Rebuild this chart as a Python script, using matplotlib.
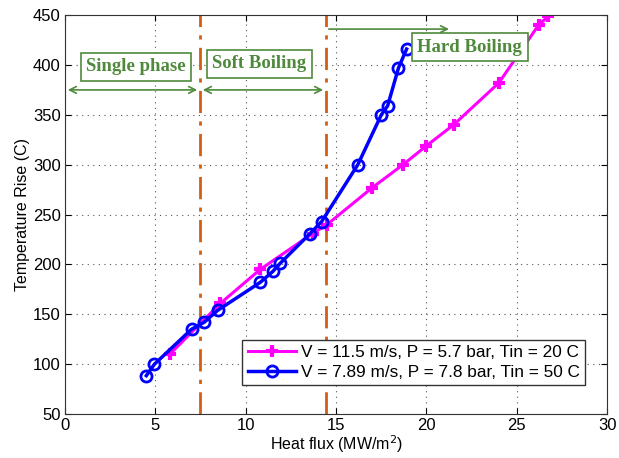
import matplotlib.pyplot as plt
import numpy as np

# series 1: V = 11.5 m/s
flux_a = [5.8, 8.6, 10.8, 13.7, 14.5, 17.0, 18.7, 20.0, 21.5, 24.0, 26.2, 26.75]
temp_a = [110, 161, 195, 231, 240, 277, 300, 319, 340, 382, 440, 449]

# series 2: V = 7.89 m/s
flux_b = [4.5, 4.95, 7.0, 7.7, 8.45, 10.8, 11.5, 11.9, 13.56, 14.2, 16.2, 17.5, 17.85, 18.45, 18.9]
temp_b = [88.5, 100, 135, 142, 154, 182, 193, 201, 231, 243, 300, 350, 359, 397, 416]

label_a = 'V = 11.5 m/s, P = 5.7 bar, Tin = 20 C'
label_b = 'V = 7.89 m/s, P = 7.8 bar, Tin = 50 C'

# regime boundaries and annotations
bounds = [7.47, 14.44]
regions = ['Single phase', 'Soft Boiling', 'Hard Boiling']
region_pos = [(3.93, 398), (10.76, 401), (22.4, 418)]

plt.rcParams['font.family'] = ['Liberation Sans', 'DejaVu Sans']
green = '#4f8a3c'
orange = '#d25f10'

fig = plt.figure(figsize=(6.19, 4.58), dpi=100)
ax = fig.add_axes([0.105, 0.096, 0.876, 0.871])

ax.plot(flux_a, temp_a, '-+', color='#ff00ff', lw=2.2, ms=8, mew=3, label=label_a)
ax.plot(flux_b, temp_b, '-o', color='#0000ff', lw=2.5, ms=8, mew=2, mfc='none', label=label_b)

for b in bounds:
    ax.axvline(b, color=orange, lw=2, ls=(0, (8, 3, 1.5, 3)), zorder=1)

arr = dict(arrowstyle='<->', color=green, lw=1.2, mutation_scale=12)
ax.annotate('', xy=(0, 375), xytext=(bounds[0], 375), arrowprops=arr)
ax.annotate('', xy=(bounds[0], 375), xytext=(bounds[1], 375), arrowprops=arr)
ax.annotate('', xy=(21.4, 436), xytext=(bounds[1], 436),
            arrowprops=dict(arrowstyle='->', color=green, lw=1.2, mutation_scale=12))

for txt, (x, y) in zip(regions, region_pos):
    ax.text(x, y, txt, ha='center', va='center', fontsize=13.5, fontweight='bold',
            family='Liberation Serif', color=green,
            bbox=dict(boxstyle='square,pad=0.3', fc='white', ec=green, lw=1.2))

ax.set_xlim(0, 30)
ax.set_ylim(50, 450)
ax.set_xticks(np.arange(0, 31, 5))
ax.set_yticks(np.arange(50, 451, 50))
ax.tick_params(direction='in', labelsize=12, top=True, right=True, length=4, pad=3)
ax.grid(True, ls=(0, (1, 4)), color='#555555', lw=0.8)
ax.set_axisbelow(True)
ax.set_xlabel('Heat flux (MW/m$^2$)', fontsize=11.5, labelpad=0)
ax.set_ylabel('Temperature Rise (C)', fontsize=11.5, labelpad=2)
for s in ax.spines.values():
    s.set_color('#333333')

leg = ax.legend(loc='lower right', fontsize=12.4, fancybox=False, framealpha=1,
                edgecolor='#333333', handlelength=2.8, handletextpad=0.3,
                borderpad=0.3, labelspacing=0.3, bbox_to_anchor=(0.975, 0.05))
leg.get_frame().set_linewidth(1.0)

fig.savefig('out.png', dpi=100)
